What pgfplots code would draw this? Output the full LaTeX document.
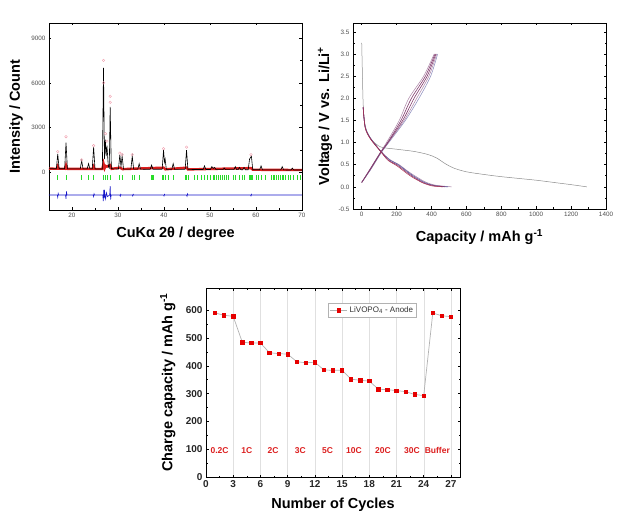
\documentclass[border=0pt]{standalone}
\usepackage{pgfplots}
\pgfplotsset{compat=1.18}
\usepackage{fontspec}
\setmainfont{Liberation Sans}
\definecolor{pinkc}{RGB}{240,160,175}
\definecolor{greenc}{RGB}{40,220,40}
\definecolor{bluec}{RGB}{20,20,200}
\definecolor{redc}{RGB}{220,30,30}
\definecolor{purp}{RGB}{130,60,110}
\definecolor{purpl}{RGB}{170,130,165}
\definecolor{bluep}{RGB}{90,90,160}
\definecolor{sqred}{RGB}{230,0,0}
\pgfplotsset{
  panelstyle/.style={
    scale only axis,
    tick align=inside,
    axis line style={line width=0.8pt},
    major tick length=2.5pt, minor tick length=1.5pt,
    every tick/.style={black, line width=0.6pt},
    /pgf/number format/assume math mode=true,
    /pgf/number format/set thousands separator={},
    scaled ticks=false,
    tick label style={font=\fontsize{6.3}{7}\selectfont, text=black!70},
    label style={font=\bfseries\fontsize{14.5}{16}\selectfont},
    clip=true,
  }
}
\begin{document}
\begin{tikzpicture}
\path[use as bounding box] (0,0) rectangle (643pt,520pt);
% ---------------- Panel 1: XRD ----------------
\begin{axis}[panelstyle,
  at={(49pt,310pt)}, anchor=south west,
  width=253pt, height=187pt,
  xmin=15, xmax=70, ymin=-2500, ymax=10000,
  xtick={20,30,40,50,60,70}, ytick={0,3000,6000,9000},
  minor x tick num=1, minor y tick num=1,
  xlabel={CuKα 2θ / degree},
  ylabel={Intensity / Count},
  xlabel style={at={(axis description cs:0.5,-0.125)}, anchor=center},
  ylabel style={at={(axis description cs:-0.13,0.5)}, anchor=center},
]
% red observed band
\addplot[redc, line width=2.4pt] coordinates {
(15,265)(16.7,257)(16.9,420)(17.1,257)(18.5,254)(18.7,480)(18.9,254)(24.5,245)(24.7,400)(24.9,244)
(26.6,242)(26.85,600)(27.1,300)(27.3,450)(27.6,400)(28.3,500)(28.6,250)(30.4,330)(31,234)(39.9,330)(40.3,220)(44.9,330)(45.2,212)(58.9,300)(59.3,190)(70,172)};
% black calculated
\addplot[black, line width=0.6pt] coordinates {
(15,265)(16.6,257)(16.9,1250)(17.2,257)(18.4,254)(18.7,2000)(19.0,254)(21.8,249)(22.1,800)(22.4,249)
(23.3,247)(23.6,600)(23.9,246)(24.4,245)(24.7,1700)(25.0,244)(26.6,242)(26.85,7000)(27.05,900)
(27.25,2200)(27.42,1100)(27.6,1800)(27.9,400)(28.1,300)(28.3,4400)(28.55,260)(30.1,236)(30.4,1200)
(30.65,400)(30.9,1100)(31.2,234)(32.8,231)(33.1,1100)(33.4,231)(34.3,229)(34.6,600)(34.9,228)
(37.0,225)(37.3,500)(37.6,225)(39.6,220)(39.9,1500)(40.1,700)(40.25,900)(40.5,220)(41.7,218)
(42.0,600)(42.3,217)(44.6,212)(44.9,1500)(45.2,212)(48.5,206)(48.8,450)(49.1,206)(50.1,204)
(50.4,400)(50.7,280)(51.0,350)(51.3,202)(52.8,200)(53.1,300)(53.4,199)(55.2,195)(55.5,400)
(55.8,195)(56.1,194)(56.4,350)(56.7,194)(57.1,192)(57.4,350)(57.7,192)(58.3,191)(58.6,900)
(58.8,1000)(59.0,1100)(59.3,190)(60.8,187)(61.1,450)(61.4,186)(65.4,178)(65.7,400)(66.0,178)
(67.6,175)(67.9,300)(68.2,175)(70,172)};
% pink observed maxima
\addplot[only marks, mark=o, mark size=1.3pt, pinkc] coordinates {
(16.9,1400)(18.7,2400)(22.1,850)(24.7,1800)(26.85,7500)(26.85,6000)(27.3,2600)(27.6,2100)
(28.3,5100)(28.3,4700)(30.4,1300)(30.9,1200)(33.1,1200)(39.9,1600)(44.9,1700)(58.9,1200)};
% green Bragg ticks
\addplot[only marks, mark=|, mark size=2.2pt, greenc, mark options={line width=0.5pt}] coordinates {
(16.9,-330)(18.7,-330)(22.1,-330)(23.6,-330)(24.7,-330)(26.9,-330)(27.3,-330)(27.6,-330)(28.3,-330)
(30.3,-330)(30.9,-330)(33.1,-330)(33.5,-330)(34.6,-330)(37.2,-330)(37.4,-330)(37.6,-330)
(39.6,-330)(39.9,-330)(40.3,-330)(41.0,-330)(42.0,-330)(44.6,-330)(44.9,-330)(45.3,-330)
(46.5,-330)(47.2,-330)(48.0,-330)(48.8,-330)(49.5,-330)(50.1,-330)(50.6,-330)(51.0,-330)
(51.4,-330)(51.8,-330)(52.2,-330)(52.6,-330)(53.0,-330)(53.5,-330)(54.0,-330)(55.0,-330)
(55.5,-330)(56.3,-330)(57.0,-330)(57.5,-330)(58.5,-330)(58.7,-330)(58.9,-330)(59.1,-330)
(60.0,-330)(60.5,-330)(61.1,-330)(62.0,-330)(63.4,-330)(63.7,-330)(64.0,-330)(64.4,-330)
(64.8,-330)(65.2,-330)(65.6,-330)(66.0,-330)(66.4,-330)(67.0,-330)(67.5,-330)(68.2,-330)
(69.0,-330)(69.6,-330)};
% blue difference
\addplot[bluec, line width=0.6pt] coordinates {
(15,-1500)(16.8,-1500)(16.9,-1650)(17.0,-1400)(17.1,-1500)(18.6,-1500)(18.7,-1750)(18.8,-1250)
(18.9,-1500)(24.6,-1500)(24.7,-1600)(24.8,-1420)(24.9,-1500)(26.7,-1500)(26.8,-1900)(26.9,-1150)
(27.0,-1700)(27.1,-1300)(27.3,-1750)(27.5,-1350)(27.7,-1600)(28.2,-1500)(28.3,-900)(28.4,-1800)
(28.5,-1500)(30.4,-1500)(30.5,-1580)(30.6,-1450)(30.7,-1500)(33.1,-1500)(33.2,-1560)(33.3,-1450)
(33.4,-1500)(39.9,-1500)(40.0,-1560)(40.1,-1450)(40.2,-1500)(44.9,-1500)(45.0,-1580)(45.1,-1420)
(45.2,-1500)(58.8,-1500)(58.9,-1560)(59.0,-1450)(59.1,-1500)(70,-1500)};
\end{axis}
% ---------------- Panel 2: voltage profiles ----------------
\begin{axis}[panelstyle,
  at={(353pt,311pt)}, anchor=south west,
  width=253pt, height=186pt,
  xmin=-50, xmax=1400, ymin=-0.5, ymax=3.7,
  xtick={0,200,...,1400}, ytick={-0.5,0,0.5,...,3.5},
  yticklabel style={/pgf/number format/.cd, fixed, fixed zerofill, precision=1},
  minor x tick num=1, minor y tick num=1,
  xlabel={Capacity / mAh g\textsuperscript{-1}},
  ylabel={Voltage / V vs. Li/Li\textsuperscript{+}},
  xlabel style={at={(axis description cs:0.5,-0.15)}, anchor=center},
  ylabel style={at={(axis description cs:-0.11,0.5)}, anchor=center},
]
% first discharge
\addplot[smooth, black!45, line width=0.5pt] coordinates {
(0,3.25)(3,2.7)(8,1.9)(15,1.5)(30,1.25)(60,1.05)(110,0.9)(200,0.85)(300,0.8)(380,0.73)
(430,0.65)(480,0.52)(530,0.42)(600,0.34)(700,0.28)(800,0.23)(900,0.19)(1000,0.15)(1100,0.1)
(1200,0.05)(1290,0.0)};
% charge curves
\addplot[smooth, purpl, line width=0.5pt] coordinates {(0,0.1)(50,0.42)(110,0.8)(145,1.02)(215,1.5)(270,2.0)(355,2.5)(415,3.0)};
\addplot[smooth, bluep!70, line width=0.5pt] coordinates {(0,0.1)(50,0.38)(110,0.76)(155,1.0)(250,1.5)(328,2.0)(395,2.5)(435,3.0)};
\addplot[smooth, purpl, line width=0.5pt] coordinates {(0,0.1)(50,0.39)(110,0.77)(152,1.0)(243,1.5)(315,2.0)(385,2.5)(430,3.0)};
\addplot[smooth, purp, line width=0.6pt] coordinates {(0,0.1)(50,0.41)(110,0.79)(148,1.0)(225,1.5)(285,2.0)(365,2.5)(420,3.0)};
\addplot[smooth, purp, line width=0.6pt] coordinates {(0,0.1)(50,0.4)(110,0.78)(150,1.0)(235,1.5)(300,2.0)(375,2.5)(425,3.0)};
% discharge curves
\addplot[smooth, purpl, line width=0.5pt] coordinates {(8,1.8)(20,1.35)(50,1.1)(110,0.8)(160,0.62)(215,0.5)(255,0.38)(300,0.26)(365,0.11)(420,0.04)(515,0.0)};
\addplot[smooth, bluep, line width=0.6pt] coordinates {(8,1.8)(20,1.35)(50,1.1)(110,0.8)(160,0.61)(210,0.5)(250,0.38)(295,0.25)(360,0.1)(415,0.03)(495,0.0)};
\addplot[smooth, purp, line width=0.6pt] coordinates {(8,1.8)(20,1.34)(50,1.09)(110,0.8)(155,0.6)(205,0.49)(245,0.37)(290,0.24)(355,0.09)(410,0.03)(480,0.0)};
\addplot[smooth, purp!70!red, line width=0.5pt] coordinates {(8,1.8)(20,1.33)(50,1.08)(110,0.79)(150,0.6)(200,0.48)(240,0.36)(285,0.23)(350,0.09)(405,0.02)(465,0.0)};
\node[anchor=east, font=\fontsize{6.5}{7}\selectfont, text=black!75] at (axis description cs:1.0,1.065) {LVP-750\textsuperscript{o}C-100mAg\textsuperscript{-1}};
\end{axis}
% ---------------- Panel 3: rate capability ----------------
\begin{axis}[panelstyle,
  at={(206pt,43pt)}, anchor=south west,
  width=254pt, height=189pt,
  xmin=0, xmax=28, ymin=0, ymax=680,
  xtick={0,3,...,27}, ytick={0,100,...,600},
  minor x tick num=1, minor y tick num=1,
  xmajorgrids, grid style={black!12, line width=0.4pt},
  tick label style={font=\bfseries\fontsize{10}{11}\selectfont, text=black!85},
  xlabel={Number of Cycles},
  ylabel={Charge capacity / mAh g\textsuperscript{-1}},
  xlabel style={at={(axis description cs:0.5,-0.148)}, anchor=center},
  ylabel style={at={(axis description cs:-0.15,0.5)}, anchor=center},
  legend style={at={(0.83,0.92)}, anchor=north east, draw=black!30, font=\fontsize{8}{9}\selectfont, text=black!80, inner sep=1.5pt},
  legend cell align=left,
]
\addplot[black!30, line width=0.7pt, mark=square*, mark size=1.7pt, mark options={sqred, draw=sqred}] coordinates {
(1,590)(2,582)(3,578)(4,485)(5,482)(6,482)(7,447)(8,444)(9,442)(10,415)(11,411)(12,413)
(13,385)(14,384)(15,384)(16,352)(17,348)(18,345)(19,316)(20,314)(21,311)(22,307)(23,297)
(24,293)(25,590)(26,580)(27,577)};
\addlegendentry{LiVOPO\textsubscript{4} - Anode}
\begin{scope}[every node/.style={font=\bfseries\fontsize{8.5}{9}\selectfont, text=redc}]
\node at (axis cs:1.5,95) {0.2C};
\node at (axis cs:4.5,95) {1C};
\node at (axis cs:7.4,95) {2C};
\node at (axis cs:10.4,95) {3C};
\node at (axis cs:13.4,95) {5C};
\node at (axis cs:16.3,95) {10C};
\node at (axis cs:19.5,95) {20C};
\node at (axis cs:22.7,95) {30C};
\node at (axis cs:25.5,95) {Buffer};
\end{scope}
\end{axis}
\end{tikzpicture}
\end{document}
